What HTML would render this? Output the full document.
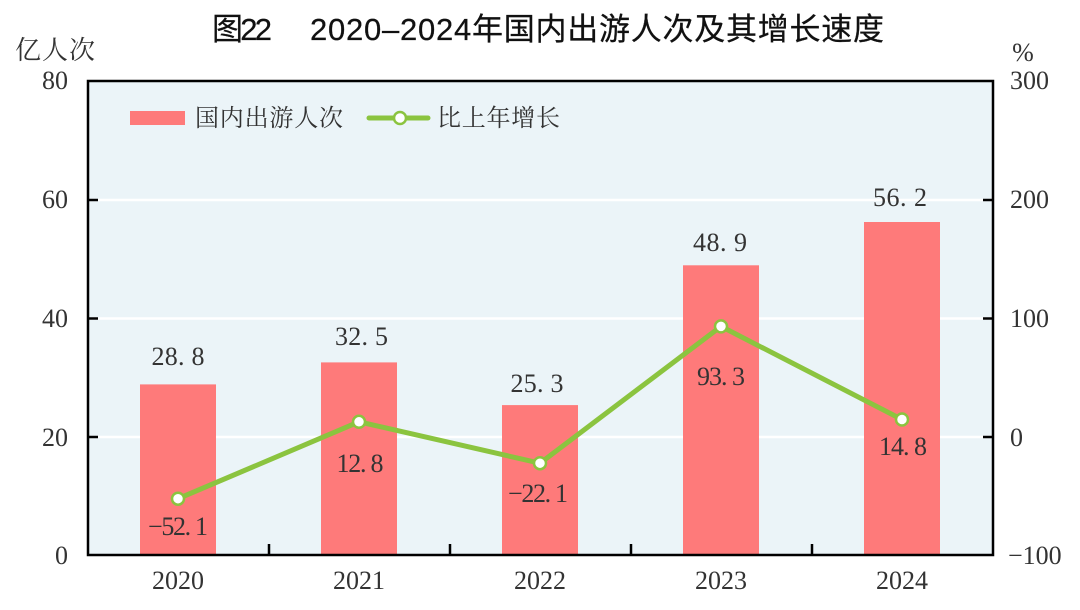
<!DOCTYPE html>
<html>
<head>
<meta charset="utf-8">
<style>
  html, body { margin: 0; padding: 0; background: #ffffff; }
  svg { display: block; }
  .num { font-family: "Liberation Serif", "DejaVu Serif", serif; font-size: 26px; fill: #333333; }
  .cjk { font-family: "Liberation Serif", "Noto Serif CJK SC", serif; fill: #333333; }
  .title { font-family: "Liberation Sans", "Noto Sans CJK SC", sans-serif; font-size: 31px; fill: #111111; }
</style>
</head>
<body>
<svg width="1080" height="610" viewBox="0 0 1080 610" xmlns="http://www.w3.org/2000/svg">
  <!-- Title -->
  <text class="title" x="212" y="40" textLength="60" stroke="#111" stroke-width="0.25">图22</text>
  <text class="title" x="310" y="40" textLength="574" stroke="#111" stroke-width="0.25">2020–2024年国内出游人次及其增长速度</text>

  <!-- Axis titles -->
  <text class="cjk" x="15" y="59" font-size="26" textLength="80">亿人次</text>
  <text class="num" x="1023" y="61" font-size="21" text-anchor="middle">%</text>

  <!-- Plot background -->
  <rect x="88" y="81" width="905" height="474" fill="#ebf4f8"/>

  <!-- Gridlines -->
  <g stroke="#ffffff" stroke-width="2.5">
    <line x1="88" y1="200" x2="993" y2="200"/>
    <line x1="88" y1="318.5" x2="993" y2="318.5"/>
    <line x1="88" y1="437" x2="993" y2="437"/>
  </g>

  <!-- Bars -->
  <g fill="#fe7a7a">
    <rect x="140" y="384.4" width="76" height="170.6"/>
    <rect x="321" y="362.4" width="76" height="192.6"/>
    <rect x="502" y="405.1" width="76" height="149.9"/>
    <rect x="683" y="265.3" width="76" height="289.7"/>
    <rect x="864" y="222.0" width="76" height="333.0"/>
  </g>

  <!-- Frame -->
  <rect x="88" y="81" width="905" height="474" fill="none" stroke="#000" stroke-width="2.5"/>

  <!-- Ticks -->
  <g stroke="#000" stroke-width="2.5">
    <line x1="88" y1="200" x2="98" y2="200"/>
    <line x1="88" y1="318.5" x2="98" y2="318.5"/>
    <line x1="88" y1="437" x2="98" y2="437"/>
    <line x1="983" y1="200" x2="993" y2="200"/>
    <line x1="983" y1="318.5" x2="993" y2="318.5"/>
    <line x1="983" y1="437" x2="993" y2="437"/>
    <line x1="269" y1="555" x2="269" y2="544"/>
    <line x1="450" y1="555" x2="450" y2="544"/>
    <line x1="631" y1="555" x2="631" y2="544"/>
    <line x1="812" y1="555" x2="812" y2="544"/>
  </g>

  <!-- Left axis labels -->
  <g class="num" text-anchor="end">
    <text x="68" y="89">80</text>
    <text x="68" y="208">60</text>
    <text x="68" y="327">40</text>
    <text x="68" y="446">20</text>
    <text x="68" y="564">0</text>
  </g>

  <!-- Right axis labels -->
  <g class="num" text-anchor="start">
    <text x="1010" y="89">300</text>
    <text x="1010" y="208">200</text>
    <text x="1010" y="327">100</text>
    <text x="1010" y="446">0</text>
    <text x="1008" y="564">−100</text>
  </g>

  <!-- Bottom labels -->
  <g class="num" text-anchor="middle">
    <text x="178" y="589">2020</text>
    <text x="359" y="589">2021</text>
    <text x="540" y="589">2022</text>
    <text x="721" y="589">2023</text>
    <text x="902" y="589">2024</text>
  </g>

  <!-- Line -->
  <polyline points="178,498.7 359,421.8 540,463.2 721,326.4 902,419.5" fill="none" stroke="#8bc43f" stroke-width="5" stroke-linejoin="round"/>
  <g fill="#ffffff" stroke="#8bc43f" stroke-width="2.5">
    <circle cx="178" cy="498.7" r="6"/>
    <circle cx="359" cy="421.8" r="6"/>
    <circle cx="540" cy="463.2" r="6"/>
    <circle cx="721" cy="326.4" r="6"/>
    <circle cx="902" cy="419.5" r="6"/>
  </g>

  <!-- Bar value labels -->
  <g class="num" text-anchor="middle">
    <text x="178" y="365" textLength="53" xml:space="preserve">28. 8</text>
    <text x="361.5" y="345" textLength="53" xml:space="preserve">32. 5</text>
    <text x="537" y="392" textLength="53" xml:space="preserve">25. 3</text>
    <text x="720" y="251" textLength="54" xml:space="preserve">48. 9</text>
    <text x="900" y="206" textLength="54" xml:space="preserve">56. 2</text>
  </g>

  <!-- Line value labels -->
  <g class="num" text-anchor="middle">
    <text x="178" y="535" textLength="60" xml:space="preserve">−52. 1</text>
    <text x="360" y="472" textLength="47" xml:space="preserve">12. 8</text>
    <text x="538" y="502" textLength="60" xml:space="preserve">−22. 1</text>
    <text x="721" y="385" textLength="48" xml:space="preserve">93. 3</text>
    <text x="903" y="455" textLength="48" xml:space="preserve">14. 8</text>
  </g>

  <!-- Legend -->
  <rect x="130" y="111" width="55" height="14" fill="#fe7a7a"/>
  <text class="cjk" x="195" y="126" font-size="24" textLength="148">国内出游人次</text>
  <line x1="369" y1="118" x2="428" y2="118" stroke="#8bc43f" stroke-width="5" stroke-linecap="round"/>
  <circle cx="400" cy="118" r="6" fill="#ffffff" stroke="#8bc43f" stroke-width="2.5"/>
  <text class="cjk" x="437" y="126" font-size="24" textLength="123">比上年增长</text>
</svg>
</body>
</html>
